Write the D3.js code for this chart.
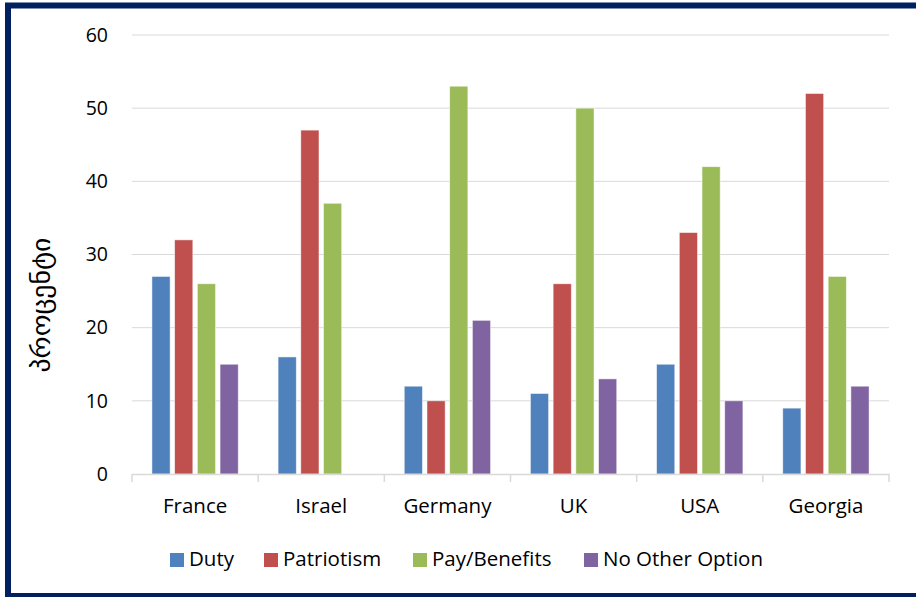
<!DOCTYPE html>
<html>
<head>
<meta charset="utf-8">
<script src="https://cdn.jsdelivr.net/npm/d3@7"></script>
<style>
  body { margin: 0; background: #fff; }
  svg { display: block; font-family: "Open Sans", "DejaVu Sans", sans-serif; }
</style>
</head>
<body>
<div id="chart"></div>
<script>
const countries = ["France", "Israel", "Germany", "UK", "USA", "Georgia"];
const seriesNames = ["Duty", "Patriotism", "Pay/Benefits", "No Other Option"];
const duty = [27, 16, 12, 11, 15, 9];
const patriotism = [32, 47, 10, 26, 33, 52];
const payBenefits = [26, 37, 53, 50, 42, 27];
const noOtherOption = [15, null, 21, 13, 10, 12];
const yTicks = [0, 10, 20, 30, 40, 50, 60];
const yLabel = "პროცენტი";

const colors = {
  "Duty": "#4F81BD",
  "Patriotism": "#C0504D",
  "Pay/Benefits": "#9BBB59",
  "No Other Option": "#8064A2"
};

const valuesBySeries = {
  "Duty": duty,
  "Patriotism": patriotism,
  "Pay/Benefits": payBenefits,
  "No Other Option": noOtherOption
};

const width = 916;
const height = 597;
const margin = { top: 35, right: 27, bottom: 123, left: 132 };
const innerWidth = width - margin.left - margin.right;
const innerHeight = height - margin.top - margin.bottom;

const svg = d3.select("#chart")
  .append("svg")
  .attr("width", width)
  .attr("height", height);

// frame
svg.append("rect")
  .attr("x", 8)
  .attr("y", 5.5)
  .attr("width", width + 20)
  .attr("height", 590.5)
  .attr("fill", "none")
  .attr("stroke", "#002060")
  .attr("stroke-width", 6);

const g = svg.append("g")
  .attr("transform", `translate(${margin.left},${margin.top})`);

const x = d3.scaleBand()
  .domain(countries)
  .range([0, innerWidth]);

const bw = x.bandwidth();
const x1 = d3.scaleBand()
  .domain(seriesNames)
  .range([bw * 0.158, bw * 0.842])
  .paddingInner(0.2);

const y = d3.scaleLinear()
  .domain([0, 60])
  .range([innerHeight, 0]);

// gridlines
g.append("g")
  .selectAll("line")
  .data(yTicks.filter(t => t > 0))
  .enter()
  .append("line")
  .attr("x1", 0)
  .attr("x2", innerWidth)
  .attr("y1", d => y(d))
  .attr("y2", d => y(d))
  .attr("stroke", "#d9d9d9")
  .attr("stroke-width", 1);

// y axis
const yAxis = g.append("g")
  .call(d3.axisLeft(y).tickValues(yTicks).tickSize(0).tickPadding(24));
yAxis.select(".domain").remove();
yAxis.selectAll("text")
  .style("font-size", "19.5px")
  .style("font-family", "'Open Sans', sans-serif")
  .attr("fill", "#000");

g.append("text")
  .attr("transform", "rotate(-90)")
  .attr("x", -(305 - margin.top))
  .attr("y", -82)
  .attr("text-anchor", "middle")
  .attr("textLength", 135)
  .attr("lengthAdjust", "spacingAndGlyphs")
  .style("font-size", "25px")
  .style("font-family", "'DejaVu Sans', sans-serif")
  .attr("fill", "#000")
  .text(yLabel);

// bars
const table = countries.map((c, i) => {
  const row = { country: c };
  seriesNames.forEach(s => { row[s] = valuesBySeries[s][i]; });
  return row;
});

g.selectAll(".group")
  .data(table)
  .enter()
  .append("g")
  .attr("transform", d => `translate(${x(d.country)},0)`)
  .selectAll("rect")
  .data(d => seriesNames
    .filter(s => d[s] != null)
    .map(s => ({ key: s, value: d[s] })))
  .enter()
  .append("rect")
  .attr("x", d => x1(d.key))
  .attr("y", d => y(d.value))
  .attr("width", x1.bandwidth())
  .attr("height", d => innerHeight - y(d.value))
  .attr("fill", d => colors[d.key])
  .attr("stroke", "#ffffff")
  .attr("stroke-opacity", 0.6)
  .attr("stroke-width", 0.8);

// x axis
const xAxis = g.append("g")
  .attr("transform", `translate(0,${innerHeight})`)
  .call(d3.axisBottom(x).tickSize(0));
xAxis.select(".domain")
  .attr("stroke", "#d9d9d9")
  .attr("stroke-width", 1.5);
xAxis.selectAll("text")
  .attr("y", 39)
  .attr("dy", 0)
  .style("font-size", "20.5px")
  .style("font-family", "'Open Sans', sans-serif")
  .attr("fill", "#000");

g.append("g")
  .selectAll("line")
  .data(d3.range(countries.length + 1))
  .enter()
  .append("line")
  .attr("x1", i => i * x.step())
  .attr("x2", i => i * x.step())
  .attr("y1", innerHeight)
  .attr("y2", innerHeight + 8)
  .attr("stroke", "#d9d9d9")
  .attr("stroke-width", 1.5);

// legend
const legendX = [170, 264, 413, 584];
const legend = svg.append("g")
  .attr("transform", "translate(0,552)");

seriesNames.forEach((s, i) => {
  const item = legend.append("g")
    .attr("transform", `translate(${legendX[i]},0)`);
  item.append("rect")
    .attr("y", 1)
    .attr("width", 14)
    .attr("height", 14)
    .attr("fill", colors[s]);
  item.append("text")
    .attr("x", 19)
    .attr("y", 13.5)
    .style("font-size", "20.5px")
    .style("font-family", "'Open Sans', sans-serif")
    .attr("fill", "#000")
    .text(s);
});
</script>
</body>
</html>
